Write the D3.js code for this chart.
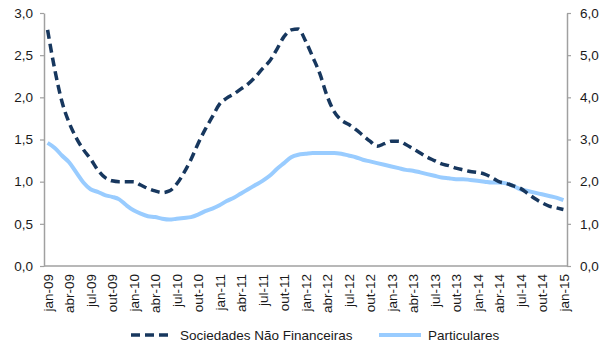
<!DOCTYPE html>
<html>
<head>
<meta charset="utf-8">
<script src="https://cdn.jsdelivr.net/npm/d3@7/dist/d3.min.js"></script>
<style>
  html, body { margin: 0; padding: 0; background: #fff; }
  svg { display: block; }
  text { font-family: "Liberation Sans", Arial, sans-serif; fill: #1a1a1a; }
</style>
</head>
<body>
<svg id="chart" width="610" height="347"></svg>
<script>
// Monthly periods jan-09 .. jan-15
const monthNames = ["jan", "fev", "mar", "abr", "mai", "jun", "jul", "ago", "set", "out", "nov", "dez"];
const months = [];
for (let y = 9; y <= 15; y++) {
  for (let m = 0; m < 12; m++) {
    if (y === 15 && m > 0) break;
    months.push(monthNames[m] + "-" + String(y).padStart(2, "0"));
  }
}

// Series: Sociedades Não Financeiras (left axis)
const sociedades = [
  2.80, 2.33, 1.95, 1.70, 1.52, 1.38, 1.27, 1.14, 1.05, 1.01, 1.00, 1.00,
  1.00, 0.96, 0.92, 0.89, 0.87, 0.89, 0.97, 1.10, 1.26, 1.45, 1.62, 1.77,
  1.92, 1.99, 2.04, 2.10, 2.16, 2.24, 2.34, 2.43, 2.57, 2.72, 2.80, 2.81,
  2.67, 2.48, 2.28, 2.02, 1.83, 1.73, 1.68, 1.62, 1.55, 1.48, 1.42, 1.45,
  1.48, 1.48, 1.44, 1.39, 1.34, 1.29, 1.25, 1.21, 1.19, 1.16, 1.14, 1.12,
  1.11, 1.09, 1.05, 1.00, 0.98, 0.95, 0.92, 0.86, 0.80, 0.75, 0.71, 0.69,
  0.67
];

// Series: Particulares (right axis)
const particulares = [
  2.92, 2.80, 2.62, 2.46, 2.22, 1.98, 1.82, 1.76, 1.68, 1.64, 1.58, 1.44,
  1.32, 1.24, 1.18, 1.16, 1.12, 1.10, 1.12, 1.14, 1.16, 1.22, 1.30, 1.36,
  1.44, 1.54, 1.62, 1.72, 1.82, 1.92, 2.02, 2.14, 2.30, 2.44, 2.58, 2.64,
  2.66, 2.68, 2.68, 2.68, 2.68, 2.66, 2.62, 2.58, 2.52, 2.48, 2.44, 2.40,
  2.36, 2.32, 2.28, 2.26, 2.22, 2.18, 2.14, 2.10, 2.08, 2.06, 2.06, 2.04,
  2.02, 2.00, 1.98, 1.98, 1.96, 1.90, 1.82, 1.78, 1.74, 1.70, 1.66, 1.62,
  1.56
];

const leftTicks = [0, 0.5, 1.0, 1.5, 2.0, 2.5, 3.0];
const rightTicks = [0, 1, 2, 3, 4, 5, 6];
const seriesNames = ["Sociedades Não Financeiras", "Particulares"];

const fmt = d3.format(".1f");
const comma = v => fmt(v).replace(".", ",");

const svg = d3.select("#chart");
const plot = { left: 44, right: 567, top: 13, bottom: 266 };
const axisColor = "#a0a0a0";
const navy = "#17375e";
const lightBlue = "#99ccff";
const fontFamily = '"Liberation Sans", Arial, sans-serif';

const x = d3.scalePoint()
  .domain(months)
  .range([plot.left, plot.right])
  .padding(0.5);

const yL = d3.scaleLinear().domain([0, 3]).range([plot.bottom, plot.top]);
const yR = d3.scaleLinear().domain([0, 6]).range([plot.bottom, plot.top]);

// Left axis
const gL = svg.append("g")
  .attr("transform", `translate(${plot.left},0)`)
  .call(d3.axisLeft(yL).tickValues(leftTicks).tickFormat(comma).tickSize(4).tickPadding(7).tickSizeOuter(0));
// Right axis
const gR = svg.append("g")
  .attr("transform", `translate(${plot.right},0)`)
  .call(d3.axisRight(yR).tickValues(rightTicks).tickFormat(comma).tickSize(4).tickPadding(9).tickSizeOuter(0));

[gL, gR].forEach(g => {
  g.select(".domain").attr("stroke", axisColor).attr("stroke-width", 1.5);
  g.selectAll(".tick line").attr("stroke", axisColor).attr("stroke-width", 1.2);
  g.selectAll(".tick text").attr("font-size", 13.5).attr("fill", "#1a1a1a")
    .attr("font-family", fontFamily);
});

// Bottom axis: labels every 3 months, no tick marks
const gX = svg.append("g")
  .attr("transform", `translate(0,${plot.bottom})`)
  .call(d3.axisBottom(x)
    .tickValues(months.filter((d, i) => i % 3 === 0))
    .tickSize(0).tickPadding(0).tickSizeOuter(0));
gX.select(".domain")
  .attr("d", `M${plot.left},0H${plot.right}`)
  .attr("stroke", axisColor).attr("stroke-width", 1.5);
gX.selectAll(".tick text")
  .attr("font-size", 13.5)
  .attr("fill", "#1a1a1a")
  .attr("font-family", fontFamily)
  .attr("text-anchor", "end")
  .attr("transform", "rotate(-90)")
  .attr("x", -8)
  .attr("y", 0)
  .attr("dy", "0.35em");

// Lines
const lineL = d3.line()
  .x((d, i) => x(months[i]))
  .y(d => yL(d))
  .curve(d3.curveMonotoneX);
const lineR = d3.line()
  .x((d, i) => x(months[i]))
  .y(d => yR(d))
  .curve(d3.curveMonotoneX);

svg.append("path")
  .datum(particulares)
  .attr("d", lineR)
  .attr("fill", "none")
  .attr("stroke", lightBlue)
  .attr("stroke-width", 4)
  .attr("stroke-linejoin", "round");

svg.append("path")
  .datum(sociedades)
  .attr("d", lineL)
  .attr("fill", "none")
  .attr("stroke", navy)
  .attr("stroke-width", 3.5)
  .attr("stroke-dasharray", "9,5")
  .attr("stroke-linejoin", "round");

// Legend
const legend = svg.append("g");
const legendItems = [
  { name: seriesNames[0], x0: 131, color: navy, dash: "9,5", w: 3.5 },
  { name: seriesNames[1], x0: 379, color: lightBlue, dash: null, w: 4 }
];
const ly = 335;
legendItems.forEach(it => {
  legend.append("line")
    .attr("x1", it.x0).attr("x2", it.x0 + 42)
    .attr("y1", ly).attr("y2", ly)
    .attr("stroke", it.color)
    .attr("stroke-width", it.w)
    .attr("stroke-dasharray", it.dash);
  legend.append("text")
    .attr("x", it.x0 + 49)
    .attr("y", ly)
    .attr("dy", "0.35em")
    .attr("font-size", 13.5)
    .text(it.name);
});
</script>
</body>
</html>
